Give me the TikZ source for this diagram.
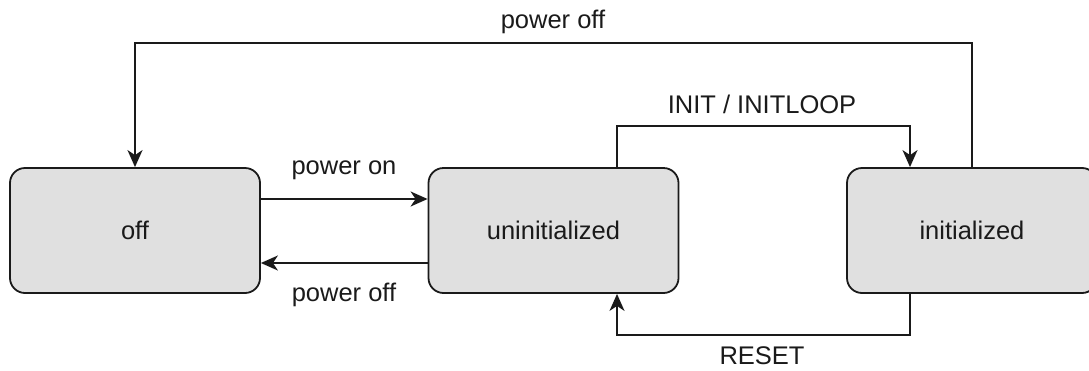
\documentclass[tikz,border=0pt]{standalone}
\usepackage{fontspec}
\setmainfont{Liberation Sans}
\usetikzlibrary{arrows.meta,calc}
\definecolor{boxfill}{HTML}{E0E0E0}
\definecolor{ink}{HTML}{1A1A1A}
\tikzset{
  state/.style={draw=ink, fill=boxfill, line width=1.8pt, rounded corners=15pt,
    minimum width=250pt, minimum height=125pt, inner sep=0pt,
    font=\fontsize{25.5}{30}\selectfont, text=ink},
  lbl/.style={font=\fontsize{25.5}{30}\selectfont, text=ink, inner sep=0pt},
  conn/.style={draw=ink, line width=1.8pt},
  arr/.style={conn, -{Stealth[length=17pt,width=15pt,inset=5pt]}}
}
\begin{document}
\begin{tikzpicture}[x=1pt,y=-1pt]
  \useasboundingbox (0,0) rectangle (1089,370);
  \clip (0,0) rectangle (1089,370);

  % states
  \node[state] (off)    at (135,230.5) {off};
  \node[state] (uninit) at (553.5,230.5) {uninitialized};
  \node[state] (init)   at (972,230.5) {initialized};

  % power on / power off between off and uninitialized
  \draw[arr] ($(off.east)+(0,-31.5)$) -- ($(uninit.west)+(0,-31.5)$);
  \draw[arr] ($(uninit.west)+(0,32.5)$) -- ($(off.east)+(0,32.5)$);
  \node[lbl] (lpon)  at (344,170) {power on};
  \node[lbl] (lpoff) at (344,295) {power off};

  % INIT / INITLOOP
  \coordinate (iA) at ($(uninit.north)+(63.5,0)$);
  \coordinate (iB) at ($(init.north)+(-62,0)$);
  \draw[arr] (iA) -- (iA |- 0,126) -- (iB |- 0,126) -- (iB);
  \node[lbl] (linit) at (762,104) {INIT / INITLOOP};

  % RESET
  \coordinate (rA) at ($(init.south)+(-62,0)$);
  \coordinate (rB) at ($(uninit.south)+(63.5,0)$);
  \draw[arr] (rA) -- (rA |- 0,335) -- (rB |- 0,335) -- (rB);
  \node[lbl] (lreset) at (762,356) {RESET};

  % power off from initialized back to off
  \draw[arr] (init.north) -- (init.north |- 0,43) -- (off.north |- 0,43) -- (off.north);
  \draw[conn, line width=2.8pt] (477,43) -- (631,43);
  \node[lbl] (ltop) at (553,22) {power off};
\end{tikzpicture}
\end{document}
